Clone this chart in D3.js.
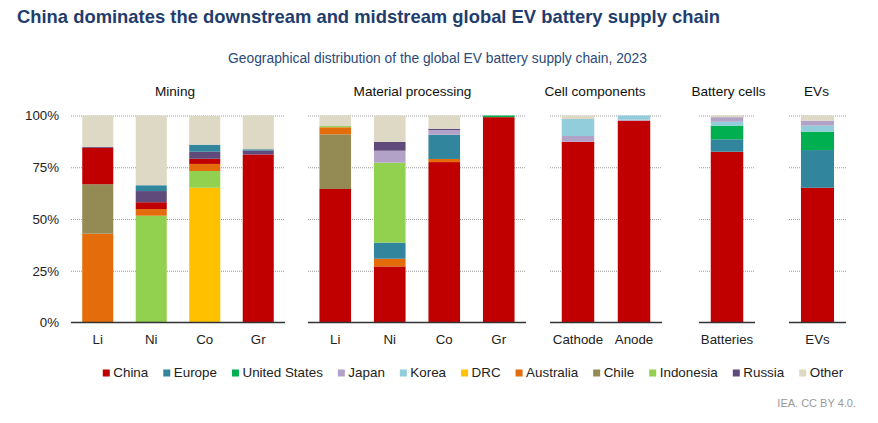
<!DOCTYPE html>
<html>
<head>
<meta charset="utf-8">
<script src="https://cdn.jsdelivr.net/npm/d3@7"></script>
<style>
  html, body { margin: 0; padding: 0; background: #fff; }
  svg { display: block; font-family: "Liberation Sans", Arial, sans-serif; }
</style>
</head>
<body>
<svg id="chart" width="878" height="423"></svg>
<script>
// ---------------- DATA ----------------
const stages = ["Mining", "Material processing", "Cell components", "Battery cells", "EVs"];
const categories = ["Li", "Ni", "Co", "Gr", "Li", "Ni", "Co", "Gr", "Cathode", "Anode", "Batteries", "EVs"];
const stageOfBar = [0, 0, 0, 0, 1, 1, 1, 1, 2, 2, 3, 4];
const countries = ["China", "Europe", "United States", "Japan", "Korea", "DRC", "Australia", "Chile", "Indonesia", "Russia", "Other"];
const countryColors = ["#c00000", "#31859c", "#00b050", "#b3a2c7", "#92cddc", "#ffc000", "#e46c0a", "#948a54", "#92d050", "#604a7b", "#ddd9c4"];

// shares (%) per bar, in category order
const china        = [17.6, 3.3,  2.5, 81.2, 64.5, 27.1, 77.5, 99.2, 87.3, 97.5, 82.5, 65.1];
const europe       = [0,    2.8,  3.4,  0.6,  0,    7.8, 11.7,  0,    0,    0,    6.0, 18.2];
const unitedStates = [0,    0,    0,    0,    0,    0,    0,    0.8,  0,    0,    6.6,  8.9];
const japan        = [0,    0,    0,    0,    0,    5.8,  2.3,  0,    2.8,  0.5,  2.2,  2.4];
const korea        = [0,    0,    0,    0,    0,    0,    0,    0,    8.2,  2.0,  1.9,  2.9];
const drc          = [0,    0,   65.1,  0,    0,    0,    0,    0,    0,    0,    0,    0];
const australia    = [42.9, 3.2,  3.4,  0,    3.4,  3.7,  1.5,  0,    0,    0,    0,    0];
const chile        = [23.9, 0,    0,    0,   26.4,  0,    0,    0,    0,    0,    0,    0];
const indonesia    = [0,   51.6,  8.1,  0,    0.6, 38.6,  0,    0,    0,    0,    0,    0];
const russia       = [0.5,  5.4,  3.4,  1.9,  0,    4.2,  0.6,  0,    0,    0,    0,    0];
const other        = [15.1, 33.7, 13.9, 16.3, 5.1, 12.8,  6.4,  0,    1.7,  0,    0.8,  2.5];

// stacking order (bottom to top) for each bar
const stackOrder = [
  ["Australia", "Chile", "China", "Russia", "Other"],
  ["Indonesia", "Australia", "China", "Russia", "Europe", "Other"],
  ["DRC", "Indonesia", "Australia", "China", "Russia", "Europe", "Other"],
  ["China", "Russia", "Europe", "Other"],
  ["China", "Chile", "Australia", "Indonesia", "Other"],
  ["China", "Australia", "Europe", "Indonesia", "Japan", "Russia", "Other"],
  ["China", "Australia", "Europe", "Japan", "Russia", "Other"],
  ["China", "United States", "Other"],
  ["China", "Japan", "Korea", "Other"],
  ["China", "Japan", "Korea", "Other"],
  ["China", "Europe", "United States", "Korea", "Japan", "Other"],
  ["China", "Europe", "United States", "Korea", "Japan", "Other"]
];
const yTicks = [0, 25, 50, 75, 100];

const seriesByCountry = {
  "China": china, "Europe": europe, "United States": unitedStates, "Japan": japan,
  "Korea": korea, "DRC": drc, "Australia": australia, "Chile": chile,
  "Indonesia": indonesia, "Russia": russia, "Other": other
};

// ---------------- LAYOUT ----------------
const svg = d3.select("#chart");
const panelRanges = [[71, 285], [308, 526], [550, 662], [699, 755], [789, 846]];
const headerCenters = [175, 412.5, 595, 728.5, 816.5];
const y = d3.scaleLinear().domain([0, 100]).range([322.5, 115.5]);
const color = d3.scaleOrdinal().domain(countries).range(countryColors);

// title + subtitle
svg.append("text").attr("x", 17).attr("y", 23)
  .attr("font-size", 18.4).attr("font-weight", "bold").attr("fill", "#1f3d6d")
  .text("China dominates the downstream and midstream global EV battery supply chain");
svg.append("text").attr("x", 437.5).attr("y", 63).attr("text-anchor", "middle")
  .attr("font-size", 13.8).attr("fill", "#2a4a7a")
  .text("Geographical distribution of the global EV battery supply chain, 2023");

stages.forEach((stage, si) => {
  const [x0, x1] = panelRanges[si];
  const idx = categories.map((c, i) => i).filter(i => stageOfBar[i] === si);
  const x = d3.scaleBand().domain(idx).range([x0, x1]).paddingInner(0.42).paddingOuter(0.21);
  const g = svg.append("g");

  // stage header
  g.append("text").attr("x", headerCenters[si]).attr("y", 96).attr("text-anchor", "middle")
    .attr("font-size", 13.6).attr("fill", "#111").text(stage);

  // gridlines
  const grid = g.append("g").attr("transform", `translate(${x0},0)`)
    .call(d3.axisLeft(y).tickValues(yTicks.filter(t => t > 0)).tickSize(-(x1 - x0)).tickFormat(""));
  grid.select(".domain").remove();
  grid.selectAll(".tick line").attr("stroke", "#9a9a9a").attr("stroke-dasharray", "1,1").attr("stroke-width", 1);

  // bars
  idx.forEach(bi => {
    let cum = 0;
    const segs = stackOrder[bi].map(cn => {
      const v = seriesByCountry[cn][bi];
      const s = { country: cn, y0: cum, y1: cum + v };
      cum += v;
      return s;
    }).filter(s => s.y1 > s.y0);
    g.selectAll(null).data(segs).enter().append("rect")
      .attr("x", x(bi)).attr("width", x.bandwidth())
      .attr("y", d => y(d.y1)).attr("height", d => y(d.y0) - y(d.y1))
      .attr("fill", d => color(d.country));
  });

  // category axis
  const xa = g.append("g").attr("transform", `translate(0,${y(0)})`)
    .call(d3.axisBottom(x).tickSize(0).tickPadding(12).tickFormat(i => categories[i]));
  xa.select(".domain").attr("stroke", "#333").attr("stroke-width", 1.5)
    .attr("d", `M${x0},0H${x1}`);
  xa.selectAll("text").attr("font-size", 13.3).attr("fill", "#222").attr("font-family", "Liberation Sans, Arial, sans-serif");

  // y axis labels on first panel
  if (si === 0) {
    const ya = g.append("g").attr("transform", `translate(${x0},0)`)
      .call(d3.axisLeft(y).tickValues(yTicks).tickSize(0).tickPadding(12).tickFormat(d => d + "%"));
    ya.select(".domain").remove();
    ya.selectAll("text").attr("font-size", 13.3).attr("fill", "#222").attr("font-family", "Liberation Sans, Arial, sans-serif");
  }
});

// legend
const legend = svg.append("g");
let lx = 0;
countries.forEach((c, i) => {
  const it = legend.append("g").attr("transform", `translate(${lx},0)`);
  it.append("rect").attr("x", 0).attr("y", -7).attr("width", 7).attr("height", 7).attr("fill", countryColors[i]);
  const t = it.append("text").attr("x", 10.5).attr("y", 0).attr("font-size", 13.4).attr("fill", "#222").text(c);
  lx += 10.5 + t.node().getComputedTextLength() + 15;
});
const legendWidth = lx - 15;
legend.attr("transform", `translate(${473 - legendWidth / 2},376.5)`);

// source
svg.append("text").attr("x", 856).attr("y", 407).attr("text-anchor", "end")
  .attr("font-size", 11).attr("fill", "#9a9a9a").text("IEA. CC BY 4.0.");
</script>
</body>
</html>
